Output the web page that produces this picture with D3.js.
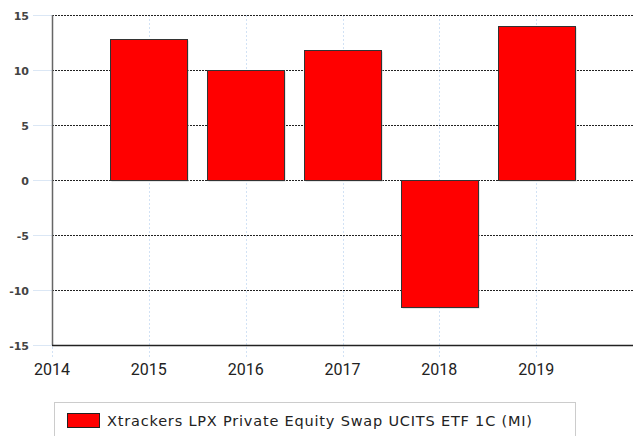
<!DOCTYPE html>
<html><head><meta charset="utf-8">
<script src="https://cdn.jsdelivr.net/npm/d3@7"></script>
<style>body{margin:0;background:#fff}svg{display:block}</style>
</head><body>
<svg id="c" width="636" height="436"></svg>
<script>
const years = [2015, 2016, 2017, 2018, 2019];
const values = [12.8, 10.0, 11.8, -11.5, 14.0];
const xTicks = [2014, 2015, 2016, 2017, 2018, 2019];
const yTicks = [-15, -10, -5, 0, 5, 10, 15];
const seriesName = "Xtrackers LPX Private Equity Swap UCITS ETF 1C (MI)";

const svg = d3.select("#c");
const L = 52, R = 633, T = 15, B = 345;
const x = d3.scaleLinear().domain([2014, 2020]).range([L, R]);
const y = d3.scaleLinear().domain([-15, 15]).range([B, T]);
const py = v => Math.round(y(v)) + 0.5;

// vertical grid (light blue dotted)
svg.append("g").selectAll("line").data(xTicks).join("line")
  .attr("x1", d => Math.round(x(d)) + 0.5).attr("x2", d => Math.round(x(d)) + 0.5)
  .attr("y1", T).attr("y2", B + 12)
  .attr("stroke", "#d2e2f5").attr("stroke-dasharray", "2,2");

// horizontal grid (black dotted)
svg.append("g").selectAll("line").data(yTicks).join("line")
  .attr("x1", L).attr("x2", R)
  .attr("y1", py).attr("y2", py)
  .attr("stroke", "#222").attr("stroke-dasharray", "2,1");

// y tick marks (light blue)
svg.append("g").selectAll("line").data(yTicks).join("line")
  .attr("x1", 33).attr("x2", L)
  .attr("y1", py).attr("y2", py)
  .attr("stroke", "#dbe7f5");

const bw = Math.round((x(2015) - x(2014)) * 0.8);
// bar shadows
svg.append("g").selectAll("rect").data(years).join("rect")
  .attr("x", d => Math.round(x(d) - bw / 2) + 1.5)
  .attr("y", (d, i) => py(Math.max(0, values[i])) + 1)
  .attr("width", bw)
  .attr("height", (d, i) => Math.abs(py(values[i]) - py(0)))
  .attr("fill", "#ccc");
// bars
svg.append("g").selectAll("rect").data(years).join("rect")
  .attr("x", d => Math.round(x(d) - bw / 2) + 0.5)
  .attr("y", (d, i) => py(Math.max(0, values[i])))
  .attr("width", bw)
  .attr("height", (d, i) => Math.abs(py(values[i]) - py(0)))
  .attr("fill", "#ff0000").attr("stroke", "#333").attr("stroke-width", 1);

// axes lines
svg.append("line").attr("x1", L + 0.5).attr("x2", L + 0.5).attr("y1", T).attr("y2", B)
  .attr("stroke", "#666").attr("stroke-width", 1.5);
svg.append("line").attr("x1", L).attr("x2", R).attr("y1", B + 0.5).attr("y2", B + 0.5)
  .attr("stroke", "#222").attr("stroke-width", 1.5);

// y labels
svg.append("g").selectAll("text").data(yTicks).join("text")
  .attr("x", 29).attr("y", d => y(d) + 4.5)
  .attr("text-anchor", "end")
  .attr("font-family", "DejaVu Sans, Verdana, sans-serif")
  .attr("font-size", 11).attr("font-weight", "bold").attr("fill", "#444")
  .text(d => d);

// x labels
svg.append("g").selectAll("text").data(xTicks).join("text")
  .attr("x", d => x(d)).attr("y", 375)
  .attr("text-anchor", "middle")
  .attr("font-family", "Roboto, Arial, sans-serif")
  .attr("font-size", 16).attr("fill", "#222")
  .text(d => d);

// legend
svg.append("rect").attr("x", 54.5).attr("y", 402.5).attr("width", 521).attr("height", 40)
  .attr("fill", "#fff").attr("stroke", "#ccc");
svg.append("rect").attr("x", 67.5).attr("y", 413.5).attr("width", 32).attr("height", 14)
  .attr("fill", "#ff0000").attr("stroke", "#222");
svg.append("text").attr("x", 107).attr("y", 426)
  .attr("font-family", "DejaVu Sans, Verdana, sans-serif")
  .attr("font-size", 14.5).attr("fill", "#222")
  .attr("textLength", 425).attr("lengthAdjust", "spacing")
  .text(seriesName);
</script>
</body></html>
